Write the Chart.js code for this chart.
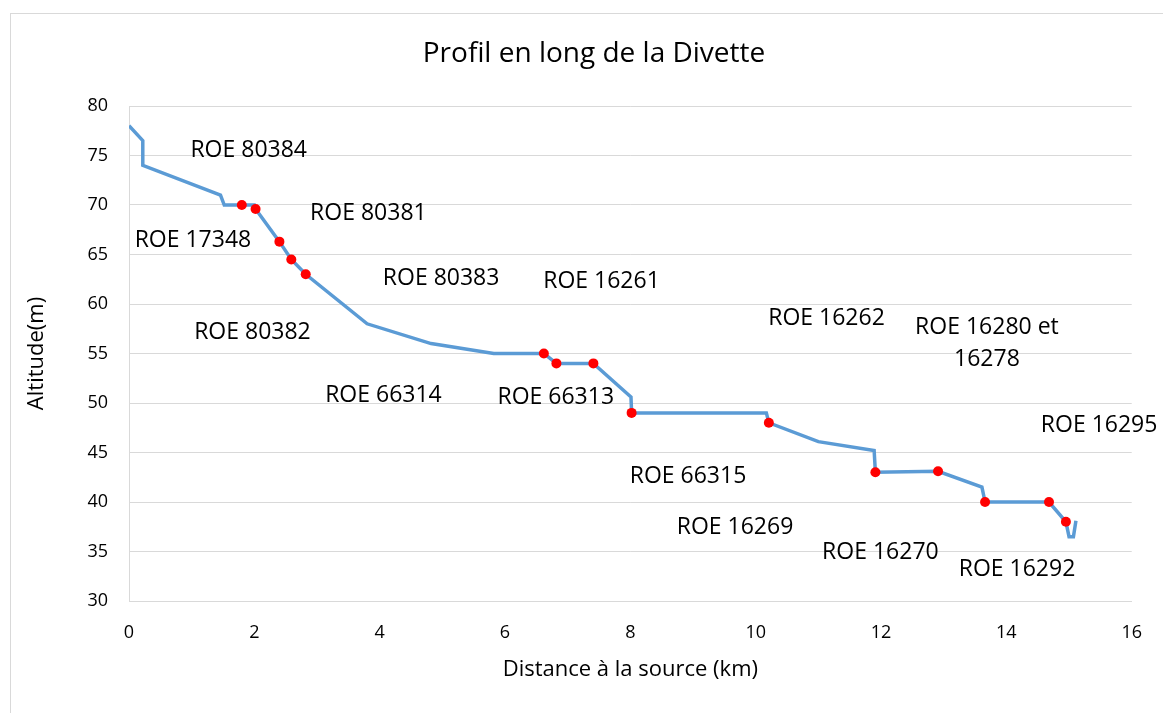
<!DOCTYPE html>
<html lang="fr">
<head>
    <meta charset="UTF-8">
    <title>Profil en long de la Divette</title>
    <script src="https://cdn.jsdelivr.net/npm/chart.js"></script>
    <style>
        body {
            margin: 0;
            background: #fff;
            overflow: hidden;
        }
        .frame {
            position: absolute;
            left: 10px;
            top: 13px;
            width: 1200px;
            height: 760px;
            border-left: 1px solid #d9d9d9;
            border-top: 1px solid #d9d9d9;
        }
        canvas {
            position: absolute;
            left: 0;
            top: 0;
        }
    </style>
</head>
<body>
    <div class="frame"></div>
    <canvas id="profil" width="1163" height="713"></canvas>
    <script>
        // profil de la riviere (km, m)
        const distance = [0, 0.22, 0.22, 1.46, 1.52, 2.0, 2.02, 2.4, 2.59, 2.82, 3.8, 4.82, 5.82, 6.62, 6.82, 7.41, 8.01, 8.02, 10.17, 10.21, 11.0, 11.89, 11.91, 12.91, 13.61, 13.66, 14.68, 14.95, 15.0, 15.07, 15.11];
        const altitude = [78, 76.5, 74, 71, 70, 70, 69.6, 66.3, 64.5, 63, 58, 56, 55, 55, 54, 54, 50.6, 49, 49, 48, 46.1, 45.2, 43, 43.1, 41.5, 40, 40, 38, 36.5, 36.5, 38.1];

        // ouvrages ROE (points rouges)
        const roeDistance = [1.8, 2.02, 2.4, 2.59, 2.82, 6.62, 6.82, 7.41, 8.02, 10.21, 11.91, 12.91, 13.66, 14.68, 14.95];
        const roeAltitude = [70, 69.6, 66.3, 64.5, 63, 55, 54, 54, 49, 48, 43, 43.1, 40, 40, 38];

        // etiquettes
        const labelText = ['ROE 80384', 'ROE 80381', 'ROE 17348', 'ROE 80383', 'ROE 16261', 'ROE 80382', 'ROE 16262', 'ROE 16280 et|16278', 'ROE 66314', 'ROE 66313', 'ROE 16295', 'ROE 66315', 'ROE 16269', 'ROE 16270', 'ROE 16292'];
        const labelX = [1.91, 3.82, 1.02, 4.98, 7.54, 1.97, 11.13, 13.69, 4.06, 6.81, 15.48, 8.92, 9.67, 11.99, 14.17];
        const labelY = [75.5, 69.1, 66.4, 62.6, 62.3, 57.1, 58.5, 56.0, 50.8, 50.6, 47.7, 42.6, 37.4, 34.9, 33.2];

        const xTicks = [0, 2, 4, 6, 8, 10, 12, 14, 16];
        const yTicks = [30, 35, 40, 45, 50, 55, 60, 65, 70, 75, 80];

        const chartTitle = 'Profil en long de la Divette';

        Chart.defaults.font.family = "'Open Sans', sans-serif";
        Chart.defaults.color = '#000';

        // titre + etiquettes ROE
        const labelsPlugin = {
            id: 'roeLabels',
            afterDatasetsDraw(chart) {
                const { ctx, scales } = chart;
                ctx.save();
                ctx.fillStyle = '#000';
                ctx.textAlign = 'center';
                ctx.textBaseline = 'middle';

                // the original chart frame is wider than the shot, so title sits right of plot centre
                ctx.font = "28px 'Open Sans', sans-serif";
                ctx.fillText(chartTitle, 594, 54);

                ctx.font = "23px 'Open Sans', sans-serif";
                labelText.forEach((t, i) => {
                    const lines = t.split('|');
                    const x = scales.x.getPixelForValue(labelX[i]);
                    const y = scales.y.getPixelForValue(labelY[i]);
                    const lh = 32;
                    lines.forEach((l, j) => {
                        ctx.fillText(l, x, y + (j - (lines.length - 1) / 2) * lh);
                    });
                });
                ctx.restore();
            }
        };

        new Chart(document.getElementById('profil'), {
            type: 'scatter',
            data: {
                datasets: [
                    {
                        label: 'ROE',
                        data: roeDistance.map((d, i) => ({ x: d, y: roeAltitude[i] })),
                        backgroundColor: '#ff0000',
                        borderColor: '#ff0000',
                        pointRadius: 5,
                        pointBorderWidth: 0,
                        order: 0
                    },
                    {
                        label: 'Profil',
                        data: distance.map((d, i) => ({ x: d, y: altitude[i] })),
                        showLine: true,
                        borderColor: '#5b9bd5',
                        borderWidth: 3.5,
                        pointRadius: 0,
                        tension: 0,
                        order: 1
                    }
                ]
            },
            options: {
                responsive: false,
                animation: false,
                layout: { padding: { top: 106, left: 20, right: 28, bottom: 22 } },
                plugins: {
                    legend: { display: false },
                    tooltip: { enabled: false },
                    title: { display: false }
                },
                scales: {
                    x: {
                        type: 'linear',
                        min: 0,
                        max: 16,
                        afterBuildTicks: s => { s.ticks = xTicks.map(v => ({ value: v })); },
                        afterFit: s => { s.height = 90; },
                        grid: { display: false, drawTicks: false },
                        border: { display: true, color: '#d9d9d9', width: 1 },
                        ticks: { font: { size: 18 }, padding: 21, maxRotation: 0 },
                        title: { display: true, text: 'Distance à la source (km)', font: { size: 22 }, padding: { top: 4, bottom: 8 } }
                    },
                    y: {
                        min: 30,
                        max: 80,
                        afterBuildTicks: s => { s.ticks = yTicks.map(v => ({ value: v })); },
                        afterFit: s => { s.width = 109; },
                        grid: { color: '#d9d9d9', lineWidth: 1, drawTicks: false },
                        border: { display: true, color: '#d9d9d9', width: 1 },
                        ticks: { font: { size: 18 }, padding: 21 },
                        title: { display: true, text: 'Altitude(m)', font: { size: 22 }, padding: { top: 4, bottom: 4 } }
                    }
                }
            },
            plugins: [labelsPlugin]
        });
    </script>
</body>
</html>
